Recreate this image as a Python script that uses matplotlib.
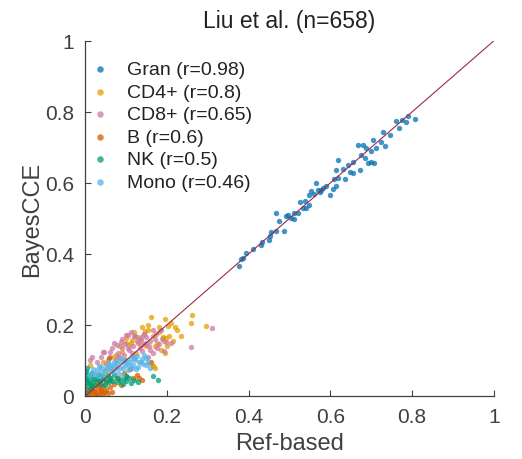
import numpy as np
import matplotlib
matplotlib.use("Agg")
import matplotlib.pyplot as plt

plt.rcParams['font.family'] = ['Liberation Sans', 'DejaVu Sans']

# values (Ref-based, BayesCCE)
gran_pts = [(0.377,0.367),(0.382,0.385),(0.387,0.388),(0.394,0.403),(0.410,0.414),(0.432,0.434),
            (0.449,0.439),(0.453,0.451),(0.455,0.461),(0.466,0.465),(0.487,0.465),(0.474,0.494),
            (0.467,0.514),(0.492,0.508),(0.496,0.511),(0.510,0.514),(0.512,0.497),(0.520,0.516),
            (0.525,0.545),(0.534,0.530),(0.537,0.549),(0.541,0.530),(0.549,0.539),(0.549,0.565),
            (0.553,0.578),(0.564,0.601),(0.569,0.581),(0.575,0.575),(0.582,0.586),(0.598,0.567),
            (0.606,0.584),(0.613,0.592),(0.578,0.580),(0.610,0.612),(0.613,0.636),(0.618,0.664),
            (0.631,0.640),(0.635,0.612),(0.643,0.650),(0.647,0.631),(0.655,0.659),(0.655,0.628),
            (0.667,0.706),(0.672,0.636),(0.676,0.678),(0.679,0.706),(0.684,0.669),(0.688,0.697),
            (0.692,0.655),(0.700,0.659),(0.704,0.721),(0.708,0.656),(0.711,0.697),(0.725,0.715),
            (0.729,0.743),(0.733,0.704),(0.761,0.773),(0.768,0.756),(0.776,0.776),(0.786,0.772),
            (0.790,0.788),(0.806,0.779),(0.590,0.590),(0.560,0.570),(0.620,0.615),(0.700,0.690),
            (0.745,0.735),(0.430,0.425),(0.505,0.500)]
cd4_pts = [(0.161,0.221),(0.196,0.216),(0.261,0.228),(0.259,0.205),(0.296,0.196),(0.210,0.205),
           (0.203,0.198),(0.221,0.193),(0.153,0.186),(0.145,0.175),(0.190,0.166),(0.198,0.163),
           (0.206,0.169),(0.194,0.154),(0.214,0.154),(0.177,0.149),(0.128,0.166),(0.116,0.158),
           (0.101,0.163),(0.108,0.144),(0.136,0.144),(0.157,0.093),(0.165,0.085),(0.075,0.116),
           (0.149,0.140),(0.147,0.182),(0.191,0.163),(0.195,0.121),(0.011,0.088),(0.113,0.149),
           (0.056,0.102),(0.171,0.079),(0.167,0.085),(0.090,0.125),(0.060,0.080),(0.030,0.060),
           (0.045,0.095),(0.125,0.120),(0.180,0.180),(0.235,0.170),(0.170,0.140),(0.085,0.140),
           (0.140,0.195),(0.020,0.030),(0.040,0.010),(0.062,0.050),(0.026,0.004),(0.010,0.020),
           (0.120,0.180),(0.135,0.160),(0.165,0.170),(0.180,0.195),(0.225,0.185),(0.155,0.200),
           (0.100,0.150),(0.070,0.110),(0.200,0.140),(0.185,0.130),(0.095,0.100),(0.048,0.070)]
cd8_pts = [(0.310,0.191),(0.259,0.138),(0.194,0.126),(0.185,0.185),(0.165,0.185),(0.120,0.169),
           (0.104,0.172),(0.087,0.151),(0.091,0.135),(0.108,0.130),(0.136,0.158),(0.149,0.149),
           (0.157,0.140),(0.140,0.126),(0.165,0.121),(0.181,0.147),(0.198,0.151),(0.067,0.135),
           (0.075,0.102),(0.120,0.107),(0.173,0.175),(0.044,0.124),(0.077,0.144),(0.105,0.135),
           (0.144,0.145),(0.011,0.102),(0.028,0.097),(0.101,0.172),(0.122,0.168),(0.130,0.150),
           (0.150,0.165),(0.160,0.130),(0.095,0.115),(0.115,0.120),(0.060,0.110),(0.135,0.135),
           (0.170,0.160),(0.050,0.090),(0.080,0.120),(0.155,0.110),(0.018,0.109),(0.047,0.124),
           (0.070,0.150),(0.090,0.160),(0.112,0.180),(0.128,0.155),(0.145,0.175),(0.175,0.135),
           (0.188,0.160),(0.062,0.125),(0.098,0.145),(0.118,0.140),(0.138,0.165),(0.158,0.155),
           (0.040,0.110),(0.083,0.110),(0.210,0.150)]
b_pts = [(0.003,0.008),(0.020,0.018),(0.032,0.022),(0.028,0.008),(0.044,0.027),(0.052,0.018),
         (0.011,0.013),(0.024,0.004),(0.081,0.051),(0.101,0.055),(0.118,0.051),(0.128,0.060),
         (0.132,0.051),(0.059,0.107),(0.161,0.097),(0.015,0.030),(0.038,0.015),(0.060,0.025),
         (0.070,0.035),(0.008,0.002),(0.045,0.005),(0.035,0.030),(0.095,0.065),(0.110,0.075),
         (0.140,0.045),(0.005,0.020),(0.050,0.040),(0.065,0.012),(0.030,0.038),(0.088,0.030),
         (0.012,0.005),(0.018,0.010),(0.025,0.015),(0.040,0.020),(0.055,0.008),(0.033,0.002),
         (0.015,0.022),(0.048,0.012)]
nk_pts = [(0.000,0.065),(0.003,0.051),(0.007,0.037),(0.020,0.041),(0.036,0.041),(0.052,0.046),
          (0.069,0.041),(0.085,0.046),(0.101,0.041),(0.113,0.037),(0.003,0.069),(0.015,0.055),
          (0.028,0.051),(0.044,0.055),(0.060,0.051),(0.000,0.027),(0.011,0.022),(0.167,0.057),
          (0.179,0.046),(0.077,0.051),(0.005,0.080),(0.010,0.045),(0.025,0.030),(0.040,0.033),
          (0.058,0.038),(0.092,0.035),(0.120,0.045),(0.002,0.010),(0.130,0.040),(0.018,0.065),
          (0.035,0.060),(0.070,0.060),(0.048,0.030),(0.100,0.055),(0.008,0.058),
          (0.012,0.035),(0.022,0.048),(0.032,0.045),(0.045,0.048),(0.062,0.044),(0.080,0.040),
          (0.095,0.048),(0.108,0.050),(0.004,0.040),(0.016,0.028),(0.000,0.050),(0.055,0.058)]
mono_pts = [(0.015,0.065),(0.028,0.074),(0.040,0.083),(0.052,0.079),(0.064,0.088),(0.077,0.093),
            (0.089,0.097),(0.101,0.102),(0.113,0.107),(0.126,0.112),(0.138,0.097),(0.150,0.088),
            (0.044,0.060),(0.069,0.069),(0.093,0.079),(0.118,0.088),(0.081,0.065),(0.105,0.074),
            (0.130,0.083),(0.032,0.055),(0.056,0.097),(0.085,0.107),(0.149,0.107),(0.020,0.075),
            (0.060,0.070),(0.075,0.080),(0.098,0.088),(0.110,0.095),(0.122,0.100),(0.140,0.105),
            (0.155,0.095),(0.048,0.072),(0.035,0.085),(0.090,0.060),(0.125,0.075),(0.160,0.080),
            (0.070,0.095),(0.010,0.058),(0.145,0.115),(0.108,0.085),
            (0.025,0.062),(0.038,0.070),(0.058,0.085),(0.072,0.088),(0.085,0.080),(0.095,0.100),
            (0.115,0.080),(0.132,0.095),(0.142,0.090),(0.120,0.110),(0.066,0.078),(0.103,0.092)]

labels = ['Gran (r=0.98)', 'CD4+ (r=0.8)', 'CD8+ (r=0.65)', 'B (r=0.6)', 'NK (r=0.5)', 'Mono (r=0.46)']
series = [gran_pts, cd4_pts, cd8_pts, b_pts, nk_pts, mono_pts]
colors = ['#0072B2', '#E69F00', '#CC79A7', '#D55E00', '#009E73', '#56B4E9']

ticks = [0, 0.2, 0.4, 0.6, 0.8, 1]
tick_labels = ['0', '0.2', '0.4', '0.6', '0.8', '1']

fig = plt.figure(figsize=(5.22, 4.6), dpi=100)
ax = fig.add_axes([0.163, 0.137, 0.783, 0.772])

for pts, c, lab in zip(series, colors, labels):
    p = np.array(pts)
    ax.scatter(p[:, 0], p[:, 1], s=15, color=c, alpha=0.75, linewidths=0, label=lab)

ax.plot([0, 1], [0, 1], color='#9E2A48', lw=0.8)

ax.set_xlim(0, 1)
ax.set_ylim(0, 1)
ax.set_xticks(ticks)
ax.set_xticklabels(tick_labels)
ax.set_yticks(ticks)
ax.set_yticklabels(tick_labels)
ax.tick_params(direction='in', length=4, width=0.8, labelsize=15, colors='#404040', pad=8)
for s in ['top', 'right']:
    ax.spines[s].set_visible(False)
for s in ['left', 'bottom']:
    ax.spines[s].set_color('#404040')
    ax.spines[s].set_linewidth(0.9)

ax.set_xlabel('Ref-based', fontsize=17, color='#404040', labelpad=4)
ax.set_ylabel('BayesCCE', fontsize=17, color='#404040', labelpad=1)
ax.set_title('Liu et al. (n=658)', fontsize=16.5, color='#222222', pad=10)

leg = ax.legend(loc='upper left', frameon=False, fontsize=14, markerscale=1.2,
                handlelength=0.8, handletextpad=1.0, labelspacing=0.25,
                borderaxespad=0, borderpad=0, bbox_to_anchor=(0.017, 0.944))
for t in leg.get_texts():
    t.set_color('#222222')

fig.savefig('out.png', dpi=100)
